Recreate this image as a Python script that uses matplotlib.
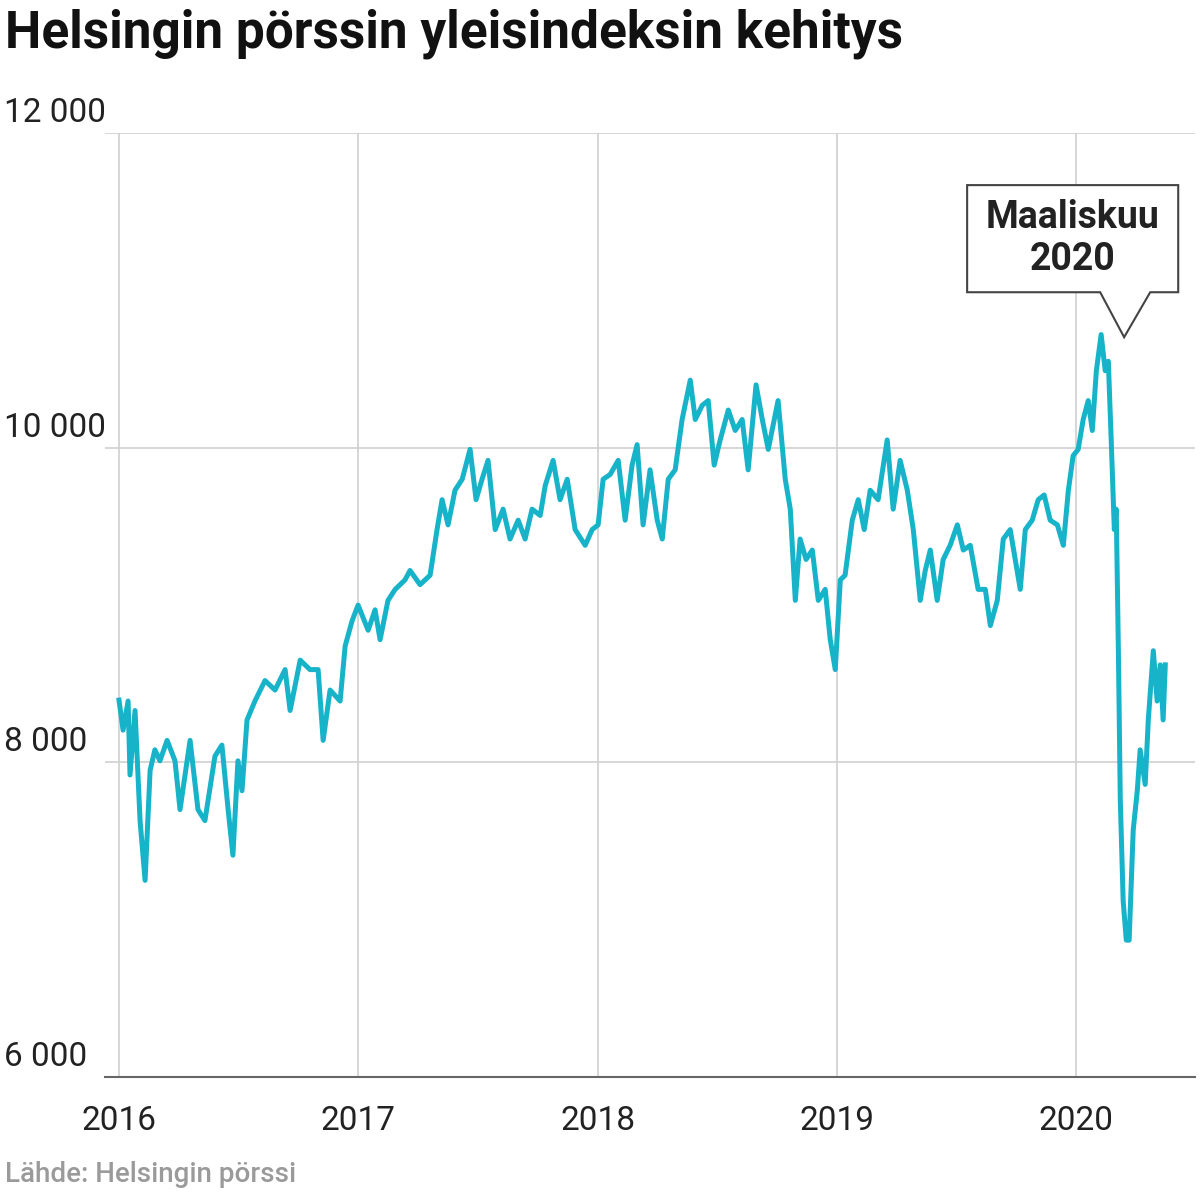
import matplotlib
matplotlib.use("Agg")
from matplotlib import pyplot as plt
from matplotlib.patches import Polygon

# Helsingin pörssin yleisindeksi, luettu kuvasta (vuodet desimaaleina 2016:sta)
years = [0.000, .017, .038, .046, .067, .088, .109, .130, .150, .171, .201, .234, .255, .297,
         .330, .359, .401, .430, .456, .476, .497, .514, .535, .568, .610, .652, .694, .715,
         .757, .798, .832, .853, .882, .924, .945, .974, .999, 1.041, 1.070, 1.091, 1.124,
         1.154, 1.195, 1.216, 1.258, 1.300, 1.329, 1.350, 1.375, 1.404, 1.434, 1.467, 1.492,
         1.517, 1.542, 1.572, 1.605, 1.634, 1.668, 1.697, 1.726, 1.760, 1.781, 1.814, 1.843,
         1.873, 1.906, 1.948, 1.977, 2.002, 2.023, 2.052, 2.086, 2.115, 2.144, 2.165, 2.190,
         2.219, 2.249, 2.270, 2.295, 2.324, 2.353, 2.387, 2.408, 2.437, 2.462, 2.487, 2.512,
         2.546, 2.575, 2.604, 2.629, 2.662, 2.688, 2.713, 2.754, 2.784, 2.805, 2.826, 2.846,
         2.871, 2.897, 2.922, 2.951, 2.972, 2.993, 3.014, 3.034, 3.064, 3.089, 3.114, 3.139,
         3.172, 3.210, 3.235, 3.264, 3.294, 3.319, 3.348, 3.369, 3.390, 3.419, 3.444, 3.473,
         3.503, 3.528, 3.557, 3.590, 3.620, 3.641, 3.670, 3.695, 3.724, 3.745, 3.766, 3.787,
         3.816, 3.841, 3.866, 3.891, 3.921, 3.946, 3.967, 3.987, 4.008, 4.029, 4.050, 4.067,
         4.084, 4.104, 4.121, 4.134, 4.146, 4.159, 4.167, 4.176, 4.184, 4.196, 4.209, 4.221,
         4.238, 4.255, 4.267, 4.288, 4.301, 4.322, 4.338, 4.351, 4.363, 4.372]
values = [8396, 8205, 8390, 7920, 8330, 7630, 7250, 7950, 8080, 8010, 8140, 8010, 7700, 8140,
          7700, 7630, 8040, 8110, 7700, 7410, 8010, 7820, 8270, 8390, 8520, 8460, 8590, 8330,
          8650, 8590, 8590, 8140, 8460, 8390, 8740, 8900, 9000, 8840, 8970, 8780, 9030,
          9100, 9160, 9220, 9130, 9190, 9480, 9670, 9510, 9730, 9800, 9990, 9670,
          9800, 9920, 9480, 9610, 9420, 9540, 9420, 9610, 9570, 9760, 9920, 9670,
          9800, 9480, 9380, 9480, 9510, 9800, 9830, 9920, 9540, 9890, 10020, 9510,
          9860, 9540, 9420, 9800, 9860, 10180, 10430, 10180, 10270, 10300, 9890, 10050,
          10240, 10110, 10180, 9860, 10400, 10180, 9990, 10300, 9800, 9610, 9030, 9420,
          9290, 9350, 9030, 9100, 8780, 8590, 9160, 9190, 9540, 9670, 9480, 9730,
          9670, 10050, 9610, 9920, 9730, 9480, 9030, 9220, 9350, 9030, 9290, 9380,
          9510, 9350, 9380, 9100, 9100, 8870, 9030, 9420, 9480, 9290, 9100, 9480,
          9540, 9670, 9700, 9540, 9510, 9380, 9730, 9950, 9990, 10180, 10300, 10110,
          10490, 10720, 10490, 10550, 10050, 9480, 9610, 8710, 7760, 7120, 6870, 6870,
          7570, 7820, 8080, 7860, 8270, 8710, 8390, 8620, 8270, 8620]

y_ticks = [6000, 8000, 10000, 12000]
y_labels = ["6 000", "8 000", "10 000", "12 000"]
x_ticks = [0, 1, 2, 3, 4]
x_labels = ["2016", "2017", "2018", "2019", "2020"]

plt.rcParams["font.family"] = "Roboto"
fig = plt.figure(figsize=(12, 12), dpi=100)
ax = fig.add_axes([0.0875, 0.1025, 0.9085, 0.7865])
ax.set_xlim(-0.0585, 4.497)
ax.set_ylim(6000, 12000)

ax.plot(years, values, color="#17b3c9", lw=3.6, solid_joinstyle="round", zorder=3)

ax.set_yticks(y_ticks)
ax.set_xticks(x_ticks)
ax.grid(True, color="#d0d0d0", lw=1.2)
ax.tick_params(left=False, labelleft=False, bottom=False, labelbottom=False)
for s in ["left", "right", "top"]:
    ax.spines[s].set_visible(False)
ax.spines["bottom"].set_color("#666666")
ax.spines["bottom"].set_linewidth(1.5)

for v, lab in zip(y_ticks, y_labels):
    ax.text(-0.0585 - 0.42, v + 25, lab, fontsize=24, color="#222222", va="bottom", ha="left",
            transform=ax.transData, clip_on=False)
for x, lab in zip(x_ticks, x_labels):
    ax.text(x, 5720, lab, fontsize=24, color="#222222", ha="center", va="center")

# selite-laatikko
box = Polygon([(3.544, 11670), (4.426, 11670), (4.426, 10989), (4.309, 10989),
               (4.200, 10703), (4.100, 10989), (3.544, 10989)],
              closed=True, facecolor="white", edgecolor="#444444", lw=1.5, zorder=4,
              clip_on=False)
ax.add_patch(box)
ax.text(3.985, 11330, "Maaliskuu\n2020", fontsize=27, fontweight="bold", color="#222222",
        ha="center", va="center", linespacing=1.2, zorder=5)

fig.text(0.004, 0.972, "Helsingin pörssin yleisindeksin kehitys", fontsize=37,
         fontweight="bold", color="#111111", va="center", ha="left")
fig.text(0.004, 0.021, "Lähde: Helsingin pörssi", fontsize=20, color="#9a9a9a",
         fontweight="medium", va="center", ha="left")

fig.savefig("out.png", dpi=100, facecolor="white")
